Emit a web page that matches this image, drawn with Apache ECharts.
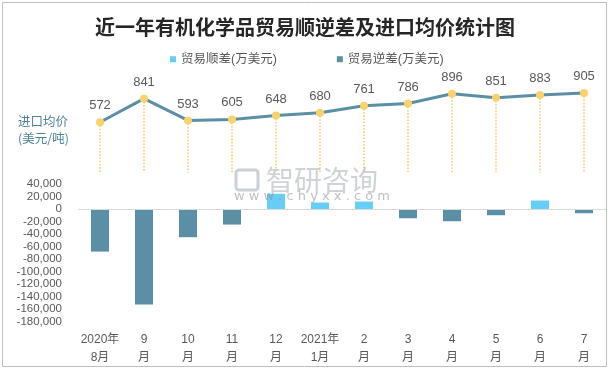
<!DOCTYPE html>
<html>
<head>
<meta charset="utf-8">
<script src="https://cdn.jsdelivr.net/npm/echarts@6/dist/echarts.min.js"></script>
<style>html,body{margin:0;padding:0;background:#fff}#c{width:610px;height:370px}</style>
</head>
<body>
<div id="c"></div>
<script>
const months = ['2020年\n8月','9\n月','10\n月','11\n月','12\n月','2021年\n1月','2\n月','3\n月','4\n月','5\n月','6\n月','7\n月'];
const surplus = [null,null,null,null,24300,10400,12000,null,null,null,13600,null];
const deficit = [-68000,-152500,-45000,-24800,null,null,null,-14700,-19500,-9900,null,-6700];
const avgPrice = [572,841,593,605,648,680,761,786,896,851,883,905];
const barAxisMin = -180000, barAxisMax = 40000, barAxisStep = 20000;
const priceAxisMin = 0, priceAxisMax = 1000;

const FONT = "'Liberation Sans','Noto Sans CJK SC',sans-serif";
const chart = echarts.init(document.getElementById('c'));
chart.setOption({
  animation: false,
  backgroundColor: '#fff',
  title: {
    text: '近一年有机化学品贸易顺逆差及进口均价统计图',
    left: 'center', top: 12,
    textStyle: {fontSize: 20, fontWeight: 'bold', color: '#262626', fontFamily: "'Noto Sans CJK SC',serif"}
  },
  legend: {
    data: ['贸易顺差(万美元)', '贸易逆差(万美元)'],
    left: 165, top: 48, itemWidth: 6, itemHeight: 6, itemGap: 60, icon: 'rect',
    textStyle: {fontSize: 12.5, color: '#595959', fontFamily: FONT}
  },
  grid: [
    {left: 78, right: 4, top: 184, bottom: 48.3},
    {left: 78, right: 4, top: 84.7, bottom: 197.5}
  ],
  xAxis: [
    {type: 'category', gridIndex: 0, data: months, position: 'bottom',
     axisLine: {show: false, onZero: false}, axisTick: {show: false},
     axisLabel: {color: '#595959', fontSize: 12, lineHeight: 18, margin: 9, fontFamily: FONT, interval: 0}},
    {type: 'category', gridIndex: 1, data: months, show: false}
  ],
  yAxis: [
    {type: 'value', gridIndex: 0, min: barAxisMin, max: barAxisMax, interval: barAxisStep,
     axisLine: {show: false}, axisTick: {show: false}, splitLine: {show: false},
     axisLabel: {color: '#595959', fontSize: 11.5, margin: 16, fontFamily: FONT,
       formatter: v => v.toLocaleString('en-US')}},
    {type: 'value', gridIndex: 1, min: priceAxisMin, max: priceAxisMax, show: false, splitLine: {show: false}}
  ],
  graphic: [
    {type: 'rect', shape: {x: 2.5, y: 2.5, width: 604, height: 364}, style: {fill: 'none', stroke: '#BFBFBF', lineWidth: 1}, z: 0},
    {type: 'text', left: 18, top: 113, style: {text: '进口均价\n(美元/吨)', fill: '#4F819D', font: "12.5px 'Noto Sans CJK SC',sans-serif", lineHeight: 17}},
    {type: 'rect', z: 100, shape: {x: 236, y: 170, width: 22, height: 20, r: 3}, style: {fill: 'none', stroke: 'rgba(170,178,190,0.6)', lineWidth: 3}},
    {type: 'text', left: 266, top: 166, z: 100, style: {text: '智研咨询', fill: 'rgba(170,175,180,0.55)', font: "28px 'Noto Sans CJK SC',sans-serif"}},
    {type: 'text', left: 234, top: 190, z: 100, style: {text: 'w w w . c h y x x . c o m', fill: 'rgba(150,150,150,0.6)', font: "13px 'DejaVu Sans',sans-serif"}}
  ],
  series: [
    {name: '贸易顺差(万美元)', type: 'bar', xAxisIndex: 0, yAxisIndex: 0, stack: 'v', barWidth: 18,
     data: surplus, itemStyle: {color: '#66CDF6'}},
    {name: '贸易逆差(万美元)', type: 'bar', xAxisIndex: 0, yAxisIndex: 0, stack: 'v', barWidth: 18,
     data: deficit, itemStyle: {color: '#5B8FA6'},
     markLine: {silent: true, symbol: 'none', label: {show: false},
       lineStyle: {color: '#D9D9D9', type: 'solid', width: 1.2}, data: [{yAxis: 0}]}},
    {name: '进口均价(美元/吨)', type: 'line', xAxisIndex: 1, yAxisIndex: 1, data: avgPrice,
     symbol: 'circle', symbolSize: 8, z: 5,
     lineStyle: {color: '#5B8FA6', width: 3},
     itemStyle: {color: '#F9D26B'},
     label: {show: true, position: 'top', distance: 6, color: '#595959', fontSize: 13, fontFamily: FONT},
     markLine: {silent: true, symbol: 'none', label: {show: false},
       lineStyle: {color: '#F6CF6A', type: 'dotted', width: 1.6},
       data: avgPrice.map((v, i) => [{coord: [i, v]}, {coord: [i, priceAxisMin]}])}}
  ]
});
</script>
</body>
</html>
